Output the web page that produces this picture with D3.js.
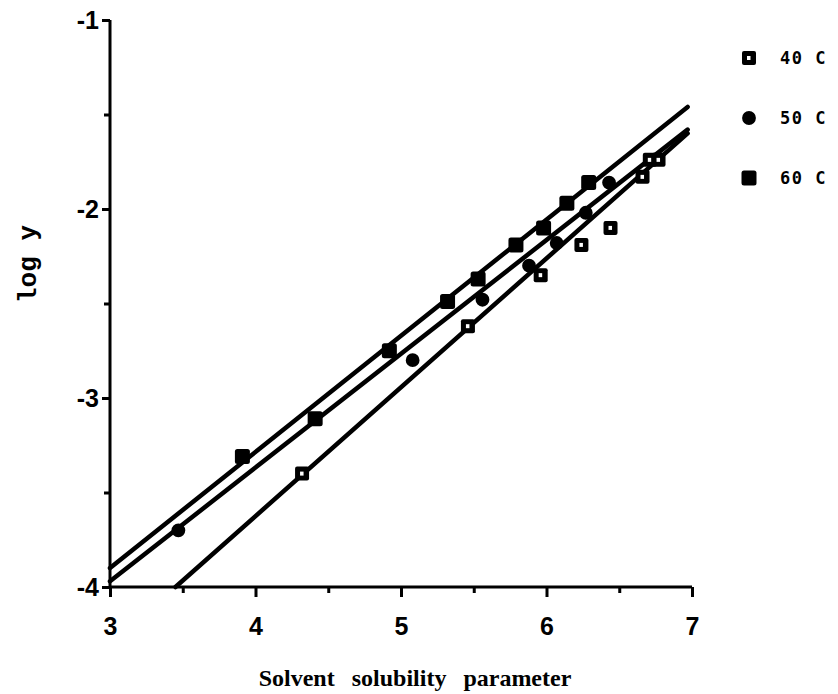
<!DOCTYPE html>
<html>
<head>
<meta charset="utf-8">
<script src="https://cdn.jsdelivr.net/npm/d3@7"></script>
<style>
  html, body { margin: 0; padding: 0; background: #fff; }
  svg { display: block; }
</style>
</head>
<body>
<svg id="chart" width="838" height="694"></svg>
<script>
// ---- data ----
const x40 = [4.32, 5.46, 5.96, 6.24, 6.44, 6.66, 6.71, 6.77];
const y40 = [-3.40, -2.62, -2.35, -2.19, -2.10, -1.83, -1.74, -1.74];
const x50 = [3.47, 5.08, 5.56, 5.88, 6.07, 6.27, 6.43];
const y50 = [-3.70, -2.80, -2.48, -2.30, -2.18, -2.02, -1.86];
const x60 = [3.91, 4.41, 4.92, 5.32, 5.53, 5.79, 5.98, 6.14, 6.29];
const y60 = [-3.31, -3.11, -2.75, -2.49, -2.37, -2.19, -2.10, -1.97, -1.86];
// fitted lines (end points)
const fit40x = [3.45, 6.97], fit40y = [-4.00, -1.60];
const fit50x = [3.00, 6.97], fit50y = [-3.97, -1.58];
const fit60x = [3.00, 6.97], fit60y = [-3.90, -1.46];
const xTicks = [3, 4, 5, 6, 7];
const xMinor = [3.5, 4.5, 5.5, 6.5];
const yTicks = [-4, -3, -2, -1];
const yMinor = [-3.5, -2.5, -1.5];
const seriesNames = ["40 C", "50 C", "60 C"];
const xTitle = "Solvent solubility parameter";
const yTitle = "log y";

// ---- chart ----
const svg = d3.select("#chart");
const x = d3.scaleLinear().domain([3, 7]).range([110, 692]);
const y = d3.scaleLinear().domain([-4, -1]).range([587, 20]);

const fmt = d => String(d);

// fit lines
const lineGen = d3.line().x(d => x(d[0])).y(d => y(d[1]));
[[fit40x, fit40y], [fit50x, fit50y], [fit60x, fit60y]].forEach(([fx, fy]) => {
  svg.append("path")
    .datum(fx.map((v, i) => [v, fy[i]]))
    .attr("d", lineGen)
    .attr("fill", "none")
    .attr("stroke", "#000")
    .attr("stroke-width", 4.5)
    .attr("stroke-linecap", "round");
});

// axes
const gx = svg.append("g").attr("transform", `translate(0,${y(-4)})`)
  .call(d3.axisBottom(x).tickValues(xTicks).tickSize(10).tickFormat(fmt));
const gxm = svg.append("g").attr("transform", `translate(0,${y(-4)})`)
  .call(d3.axisBottom(x).tickValues(xMinor).tickSize(6).tickFormat(""));
const gy = svg.append("g").attr("transform", `translate(${x(3)},0)`)
  .call(d3.axisLeft(y).tickValues(yTicks).tickSize(8).tickFormat(fmt));
const gym = svg.append("g").attr("transform", `translate(${x(3)},0)`)
  .call(d3.axisLeft(y).tickValues(yMinor).tickSize(6).tickFormat(""));

[gx, gxm, gy, gym].forEach(g => {
  g.select(".domain").attr("stroke", "#000").attr("stroke-width", 3);
  g.selectAll(".tick line").attr("stroke", "#000").attr("stroke-width", 3);
});
gxm.select(".domain").remove();
gym.select(".domain").remove();
gx.select(".domain").attr("d", `M${x(3)},0H${x(7)}`);
gy.select(".domain").attr("d", `M0,${y(-1)}V${y(-4)}`);

const tickFont = "'Liberation Sans', Arial, sans-serif";
gx.selectAll(".tick text")
  .attr("font-family", tickFont)
  .attr("font-weight", "bold").attr("font-size", 25).attr("fill", "#000")
  .attr("dy", "0.71em").attr("y", 30);
gy.selectAll(".tick text")
  .attr("font-family", tickFont)
  .attr("font-weight", "bold").attr("font-size", 25).attr("fill", "#000")
  .attr("x", -11);

// axis titles
svg.append("text")
  .attr("x", 415).attr("y", 686)
  .attr("text-anchor", "middle")
  .attr("font-family", "'Liberation Serif', 'Times New Roman', serif")
  .attr("font-weight", "bold").attr("font-size", 24)
  .attr("word-spacing", 11)
  .text(xTitle);
svg.append("text")
  .attr("transform", "translate(36,264) rotate(-90)")
  .attr("text-anchor", "middle")
  .attr("font-family", "'Liberation Mono', 'DejaVu Sans Mono', monospace")
  .attr("font-weight", "bold").attr("font-size", 26)
  .text(yTitle);

// markers
function drawMarker(g, type, cx, cy) {
  if (type === 0) {
    g.append("rect").attr("x", cx - 7).attr("y", cy - 7).attr("width", 14).attr("height", 14)
      .attr("rx", 2).attr("fill", "#000");
    g.append("rect").attr("x", cx - 2).attr("y", cy - 2).attr("width", 3.5).attr("height", 4)
      .attr("fill", "#fff");
  } else if (type === 1) {
    g.append("path")
      .attr("d", d3.symbol().type(d3.symbolCircle).size(150)())
      .attr("transform", `translate(${cx},${cy})`)
      .attr("fill", "#000");
  } else {
    g.append("rect").attr("x", cx - 7.5).attr("y", cy - 7.5).attr("width", 15).attr("height", 15)
      .attr("rx", 2.5).attr("fill", "#000");
  }
}
const gm = svg.append("g");
x40.forEach((v, i) => drawMarker(gm, 0, x(v), y(y40[i])));
x50.forEach((v, i) => drawMarker(gm, 1, x(v), y(y50[i])));
x60.forEach((v, i) => drawMarker(gm, 2, x(v), y(y60[i])));

// legend
const legY = [58, 118, 178];
seriesNames.forEach((name, i) => {
  drawMarker(svg, i, 749, legY[i]);
  svg.append("text")
    .attr("x", 780).attr("y", legY[i]).attr("dy", "0.35em")
    .attr("font-family", "'DejaVu Sans Mono', 'Liberation Mono', monospace")
    .attr("font-weight", "bold").attr("font-size", 17)
    .attr("letter-spacing", 1.5)
    .text(name);
});
</script>
</body>
</html>
